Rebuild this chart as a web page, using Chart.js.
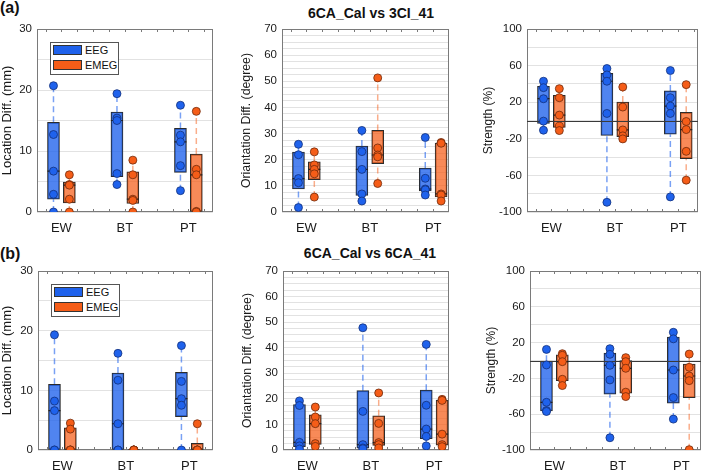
<!DOCTYPE html>
<html>
<head>
<meta charset="utf-8">
<script src="https://cdn.jsdelivr.net/npm/chart.js@4.4.1/dist/chart.umd.min.js"></script>
<style>
  body { margin: 0; width: 709px; height: 471px; overflow: hidden; position: relative; background: #fff;
         font-family: "Liberation Sans", Arial, sans-serif; color: #111; }
  .panel { position: absolute; }
  .tag { position: absolute; font-weight: bold; font-size: 16px; line-height: 16px; }
  .title { position: absolute; width: 240px; text-align: center; font-weight: bold; font-size: 14px; line-height: 16px; }
  .legend { position: absolute; box-sizing: border-box; border: 1px solid #555; background: #fff; font-size: 11px; }
  .legend .sw { position: absolute; left: 2px; width: 29px; height: 10px; box-sizing: border-box; border: 1px solid #333; }
  .legend .tx { position: absolute; left: 34px; line-height: 12px; }
</style>
</head>
<body>

<div class="tag" style="left:0;top:0">(a)</div>
<div class="tag" style="left:0;top:246px">(b)</div>
<div class="title" style="left:251px;top:5px">6CA_Cal vs 3CI_41</div>
<div class="title" style="left:250px;top:245px">6CA_Cal vs 6CA_41</div>

<script>
// ================= Data =================
const groups = ['EW', 'BT', 'PT'];
const seriesNames = ['EEG', 'EMEG'];

// (a) 6CA_Cal vs 3CI_41 : single values and boxes [q1, median, q3]
const locA_EEG  = [[20.7, 12.7, 6.7, 2.9, 0], [19.4, 15.4, 15.0, 6.3, 4.5], [17.5, 12.6, 11.5, 7.6, 3.5]];
const locA_EMEG = [[6.1, 4.5, 4.4, 2.1, 0], [8.5, 6.1, 2.1, 1.9, 0], [16.5, 7.0, 6.1, 0.1, 0]];
const locA_EEG_box  = [[2.1, 6.7, 14.7], [5.8, 15.0, 16.4], [6.5, 11.5, 13.7]];
const locA_EMEG_box = [[1.5, 4.4, 4.9], [1.4, 2.1, 6.6], [0, 6.1, 9.5]];

const oriA_EEG  = [[25.9, 21.9, 12.8, 11.2, 1.7], [31.2, 23.1, 16.3, 6.9, 4.2], [28.5, 12.9, 8.8, 8.5, 6.5]];
const oriA_EMEG = [[23.0, 18.0, 16.3, 14.6, 5.7], [51.3, 24.5, 21.8, 21.1, 10.9], [26.6, 26.3, 6.9, 6.5, 4.2]];
const oriA_EEG_box  = [[8.8, 12.8, 22.9], [6.3, 16.3, 25.2], [8.1, 8.8, 16.8]];
const oriA_EMEG_box = [[12.4, 16.3, 19.2], [18.5, 21.8, 31.2], [5.8, 6.9, 26.4]];

const strA_EEG  = [[42.9, 35.9, 23.8, -0.7, -10.6], [56.8, 49.8, 42.9, 7.7, -89.4], [54.6, 24.9, 15.8, 7.7, -83.5]];
const strA_EMEG = [[34.8, 24.9, 5.9, -6.2, -11.0], [36.6, 14.7, -10.3, -16.8, -20.1], [39.2, -1.1, -9.9, -33.7, -65.2]];
const strA_EEG_box  = [[-3.2, 23.8, 37.4], [-16.4, 42.9, 51.6], [-15.0, 15.8, 32.3]];
const strA_EMEG_box = [[-7.6, 5.9, 27.4], [-17.7, -10.3, 20.2], [-41.6, -9.9, 8.9]];

// (b) 6CA_Cal vs 6CA_41
const locB_EEG  = [[19.3, 8.2, 6.6, 0, 0], [16.2, 11.7, 4.4, 0, 0], [17.5, 11.5, 8.6, 7.5, 0]];
const locB_EMEG = [[4.5, 3.5, 0, 0, 0], [0, 0, 0, 0, 0], [4.4, 0, 0, 0, 0]];
const locB_EEG_box  = [[0, 6.6, 11.0], [0, 4.4, 12.9], [5.6, 8.6, 13.0]];
const locB_EMEG_box = [[0, 0, 3.7], [0, 0, 0], [0, 0, 1.1]];

const oriB_EEG  = [[19.2, 17.4, 3.0, 1.6, 0.4], [47.8, 15.1, 2.1, 0.8, 0.5], [41.3, 17.5, 8.2, 5.3, 1.6]];
const oriB_EMEG = [[16.8, 12.9, 10.3, 2.5, 1.4], [22.3, 10.4, 2.9, 2.1, 0.8], [19.8, 19.4, 6.2, 2.1, 1.3]];
const oriB_EEG_box  = [[1.3, 3.0, 17.8], [0.7, 2.1, 23.2], [4.4, 8.2, 23.4]];
const oriB_EMEG_box = [[2.2, 10.3, 13.8], [1.8, 2.9, 13.4], [1.9, 6.2, 19.5]];

const strB_EEG  = [[12.4, -5.0, -46.7, -56.0, -57.0], [13.2, 6.9, -5.4, -21.7, -86.3], [31.5, 24.2, -10.6, -41.4, -65.5]];
const strB_EMEG = [[7.6, 5.8, -1.3, -21.0, -28.0], [3.2, -1.3, -8.7, -35.4, -40.3], [7.2, -7.6, -17.3, -22.5, -99.6]];
const strB_EEG_box  = [[-56.2, -46.7, -0.7], [-37.6, -5.4, 8.4], [-47.6, -10.6, 26.1]];
const strB_EMEG_box = [[-22.6, -1.3, 6.2], [-36.5, -8.7, -0.2], [-41.6, -17.3, -3.9]];

// ================= Styles =================
Chart.defaults.font.family = '"Liberation Sans", Arial, sans-serif';
Chart.defaults.color = '#262626';

const styles = [
  { solid: '#1f62ec', box: 'rgba(31,98,236,0.78)', whisker: 'rgba(31,98,236,0.6)', edge: '#13307a', off: -0.125 },
  { solid: '#f55d18', box: 'rgba(245,93,24,0.72)', whisker: 'rgba(245,93,24,0.5)', edge: '#6e2a0b', off: 0.125 }
];

const yLoc = { min: 0, max: 30, step: 5, title: 'Location Diff. (mm)', size: 13, show: v => v % 10 === 0 };
const yOri = { min: 0, max: 70, step: 2.5, title: 'Oriantation Diff. (degree)', size: 12.3, show: v => v % 10 === 0 };
const yStr = { min: -100, max: 100, step: 20, title: 'Strength (%)', size: 12, show: v => (v + 100) % 40 === 0, zero: true };

const rowA = { top: 0, padTop: 29, height: 236 };
const rowB = { top: 235, padTop: 36, height: 239 };

const panels = [
  { row: rowA, left: 0,   axisW: 37, areaW: 180, y: yLoc, data: [[locA_EEG, locA_EEG_box], [locA_EMEG, locA_EMEG_box]], legend: true },
  { row: rowA, left: 239, axisW: 43, areaW: 171, y: yOri, data: [[oriA_EEG, oriA_EEG_box], [oriA_EMEG, oriA_EMEG_box]] },
  { row: rowA, left: 481, axisW: 46, areaW: 175, y: yStr, data: [[strA_EEG, strA_EEG_box], [strA_EMEG, strA_EMEG_box]] },
  { row: rowB, left: 0,   axisW: 38, areaW: 179, y: yLoc, data: [[locB_EEG, locB_EEG_box], [locB_EMEG, locB_EMEG_box]], legend: true },
  { row: rowB, left: 240, axisW: 43, areaW: 170, y: yOri, data: [[oriB_EEG, oriB_EEG_box], [oriB_EMEG, oriB_EMEG_box]] },
  { row: rowB, left: 484, axisW: 46, areaW: 175, y: yStr, data: [[strB_EEG, strB_EEG_box], [strB_EMEG, strB_EMEG_box]] }
];

// ================= Frame, minor ticks, zero line =================
const framePlugin = {
  id: 'frame',
  beforeDatasetsDraw(chart) {
    const { ctx, chartArea: a, scales } = chart;
    ctx.save();
    ctx.strokeStyle = '#7a7a7a';
    ctx.lineWidth = 1;
    ctx.strokeRect(Math.round(a.left) + 0.5, Math.round(a.top) + 0.5, Math.round(a.width) - 1, Math.round(a.height) - 1);
    ctx.beginPath();
    const xs = scales.x;
    for (let v = Math.ceil(xs.min * 4) / 4; v <= xs.max; v += 0.25) {
      const px = Math.round(xs.getPixelForValue(v)) + 0.5;
      ctx.moveTo(px, a.top); ctx.lineTo(px, a.top + 3);
      ctx.moveTo(px, a.bottom); ctx.lineTo(px, a.bottom - 3);
    }
    ctx.stroke();
    ctx.restore();
  },
  afterDatasetDraw(chart, args, opts) {
    if (!opts.zero || args.meta.type !== 'bar') return;
    const { ctx, chartArea: a, scales } = chart;
    const py = Math.round(scales.y.getPixelForValue(0)) + 0.5;
    ctx.save();
    ctx.strokeStyle = '#3a3a3a';
    ctx.lineWidth = 1.2;
    ctx.beginPath();
    ctx.moveTo(a.left, py); ctx.lineTo(a.right, py);
    ctx.stroke();
    ctx.restore();
  }
};

// ================= Build datasets =================
function buildDatasets(data) {
  const out = [];
  data.forEach(([pts, box], k) => {
    const st = styles[k];
    const xOf = i => i + 1 + st.off;
    out.push({
      type: 'line', label: seriesNames[k] + ' whisker', order: 4,
      data: groups.flatMap((g, i) => [
        { x: xOf(i), y: Math.min(...pts[i]) }, { x: xOf(i), y: box[i][0] }, { x: xOf(i), y: null },
        { x: xOf(i), y: box[i][2] }, { x: xOf(i), y: Math.max(...pts[i]) }, { x: xOf(i), y: null }
      ]),
      showLine: true, spanGaps: false, borderColor: st.whisker, borderWidth: 1.5,
      borderDash: [6, 4], pointRadius: 0
    });
    out.push({
      type: 'bar', label: seriesNames[k], order: 3,
      data: groups.map((g, i) => ({ x: xOf(i), y: [box[i][0], box[i][2]] })),
      backgroundColor: st.box, borderColor: '#2b2b2b', borderWidth: 1,
      borderSkipped: false, barThickness: 12, grouped: false
    });
    out.push({
      type: 'scatter', label: seriesNames[k] + ' median', order: 2,
      data: groups.map((g, i) => ({ x: xOf(i), y: box[i][1] })),
      pointStyle: 'line', pointRadius: 6, pointBorderColor: '#222', pointBorderWidth: 1.2
    });
    out.push({
      type: 'scatter', label: seriesNames[k] + ' values', order: 1,
      data: groups.flatMap((g, i) => pts[i].map(v => ({ x: xOf(i), y: v }))),
      pointRadius: 4, pointBackgroundColor: st.solid, pointBorderColor: st.edge, pointBorderWidth: 0.8
    });
  });
  return out;
}

// ================= Draw panels =================
panels.forEach(p => {
  const wrap = document.createElement('div');
  wrap.className = 'panel';
  const width = p.axisW + p.areaW + 3;
  Object.assign(wrap.style, { left: p.left + 'px', top: p.row.top + 'px', width: width + 'px', height: p.row.height + 'px' });
  const canvas = document.createElement('canvas');
  wrap.appendChild(canvas);
  document.body.appendChild(wrap);

  const xMin = 1 - 25 / 65;
  const xMax = xMin + p.areaW / 65;

  new Chart(canvas, {
    type: 'scatter',
    data: { datasets: buildDatasets(p.data) },
    plugins: [framePlugin],
    options: {
      responsive: true,
      maintainAspectRatio: false,
      animation: false,
      events: [],
      layout: { padding: { top: p.row.padTop, left: 0, right: 3, bottom: 0 } },
      plugins: {
        legend: { display: false },
        tooltip: { enabled: false },
        frame: { zero: !!p.y.zero }
      },
      scales: {
        x: {
          type: 'linear', min: xMin, max: xMax, offset: false,
          grid: { display: false, drawTicks: false }, border: { display: false },
          afterBuildTicks: ax => { ax.ticks = groups.map((g, i) => ({ value: i + 1 })); },
          afterFit: s => { s.height = 24; },
          ticks: { padding: 9, font: { size: 13 }, color: '#1a1a1a', callback: v => groups[Math.round(v) - 1] }
        },
        y: {
          min: p.y.min, max: p.y.max,
          grid: { color: '#e2e2e2', drawTicks: false },
          border: { display: false },
          afterFit: s => { s.width = p.axisW; },
          title: { display: true, text: p.y.title, font: { size: p.y.size }, padding: 0, color: '#1a1a1a' },
          ticks: { stepSize: p.y.step, autoSkip: false, padding: 5, font: { size: 11.5 }, color: '#1a1a1a',
                   callback: v => (p.y.show(v) ? String(v) : '') }
        }
      }
    }
  });

  if (p.legend) {
    const lg = document.createElement('div');
    lg.className = 'legend';
    const area = { left: p.left + p.axisW, top: p.row.top + p.row.padTop };
    Object.assign(lg.style, { left: (area.left + 13) + 'px', top: (area.top + 13) + 'px', width: '69px', height: '33px' });
    seriesNames.forEach((name, k) => {
      const sw = document.createElement('div');
      sw.className = 'sw';
      sw.style.top = (2 + k * 15) + 'px';
      sw.style.background = styles[k].solid;
      const tx = document.createElement('div');
      tx.className = 'tx';
      tx.style.top = (1 + k * 15) + 'px';
      tx.textContent = name;
      lg.appendChild(sw);
      lg.appendChild(tx);
    });
    document.body.appendChild(lg);
  }
});
</script>
</body>
</html>
